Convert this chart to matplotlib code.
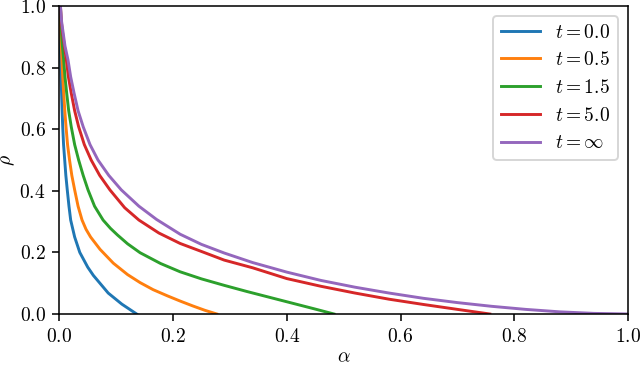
import matplotlib
matplotlib.use("Agg")
import matplotlib.pyplot as plt

plt.rcParams['font.family'] = ['cmr10', 'DejaVu Serif']
plt.rcParams['mathtext.fontset'] = 'cm'
plt.rcParams['axes.formatter.use_mathtext'] = True
plt.rcParams['font.size'] = 10

# t = 0.0
alpha_t0 = [0.0003, 0.0012, 0.0024, 0.0031, 0.004, 0.005, 0.006, 0.0075, 0.0095, 0.0115, 0.014, 0.017,
            0.020, 0.027, 0.036, 0.050, 0.060, 0.0716, 0.086, 0.110, 0.136]
rho_t0 = [1.0, 0.91, 0.825, 0.77, 0.717, 0.66, 0.608, 0.55, 0.5, 0.45, 0.403, 0.35,
          0.305, 0.25, 0.2, 0.152, 0.125, 0.0996, 0.068, 0.032, 0.0]

# t = 0.5
alpha_t05 = [0.001, 0.0017, 0.0025, 0.0035, 0.0047, 0.006, 0.0077, 0.0097, 0.0118, 0.0145, 0.018, 0.022,
             0.027, 0.033, 0.040, 0.047, 0.055, 0.0716, 0.095, 0.12, 0.142, 0.165, 0.19, 0.2125, 0.235, 0.256, 0.277]
rho_t05 = [1.0, 0.95, 0.91, 0.87, 0.825, 0.77, 0.717, 0.66, 0.608, 0.55, 0.5, 0.45,
           0.403, 0.35, 0.305, 0.275, 0.25, 0.210, 0.165, 0.128, 0.102, 0.079, 0.059, 0.042, 0.026, 0.012, 0.0]

# t = 1.5
alpha_t15 = [0.002, 0.003, 0.004, 0.0055, 0.0077, 0.010, 0.013, 0.0165, 0.021, 0.027, 0.034, 0.042,
             0.0505, 0.062, 0.077, 0.090, 0.102, 0.120, 0.142, 0.178, 0.2125, 0.25, 0.29, 0.33, 0.37, 0.41, 0.45, 0.483]
rho_t15 = [1.0, 0.95, 0.91, 0.87, 0.825, 0.77, 0.717, 0.66, 0.608, 0.55, 0.5, 0.45,
           0.403, 0.35, 0.305, 0.278, 0.257, 0.228, 0.199, 0.164, 0.137, 0.114, 0.093, 0.073, 0.054, 0.035, 0.016, 0.0]

# t = 5.0
alpha_t5 = [0.002, 0.0035, 0.006, 0.009, 0.0124, 0.016, 0.021, 0.027, 0.034, 0.044, 0.056, 0.071,
            0.089, 0.115, 0.140, 0.175, 0.2125, 0.250, 0.290, 0.340, 0.400, 0.460, 0.520, 0.580, 0.640, 0.700, 0.757]
rho_t5 = [1.0, 0.95, 0.91, 0.87, 0.825, 0.77, 0.717, 0.66, 0.608, 0.55, 0.5, 0.45,
          0.403, 0.345, 0.305, 0.263, 0.229, 0.203, 0.175, 0.150, 0.115, 0.090, 0.068, 0.048, 0.031, 0.015, 0.0]

# t = infinity
alpha_tinf = [0.002, 0.004, 0.007, 0.010, 0.0153, 0.020, 0.026, 0.033, 0.042, 0.054, 0.068, 0.087,
              0.109, 0.140, 0.171, 0.2125, 0.250, 0.290, 0.340, 0.400, 0.460, 0.520, 0.580, 0.640,
              0.700, 0.760, 0.820, 0.880, 0.940, 1.0]
rho_tinf = [1.0, 0.95, 0.91, 0.87, 0.825, 0.77, 0.717, 0.66, 0.608, 0.55, 0.5, 0.45,
            0.403, 0.350, 0.307, 0.259, 0.226, 0.198, 0.167, 0.136, 0.109, 0.087, 0.068, 0.051,
            0.037, 0.025, 0.015, 0.007, 0.002, 0.0]

labels = [r'$t = 0.0$', r'$t = 0.5$', r'$t = 1.5$', r'$t = 5.0$', r'$t = \infty$']
series = [(alpha_t0, rho_t0), (alpha_t05, rho_t05), (alpha_t15, rho_t15),
          (alpha_t5, rho_t5), (alpha_tinf, rho_tinf)]
colors = ['#1f77b4', '#ff7f0e', '#2ca02c', '#d62728', '#9467bd']

dpi = 140
fig = plt.figure(figsize=(640 / dpi, 366 / dpi), dpi=dpi)
ax = fig.add_axes([59.3 / 640, 52 / 366, (628 - 59.3) / 640, (314 - 6) / 366])

for (a, r), lab, c in zip(series, labels, colors):
    ax.plot(a, r, color=c, label=lab, lw=1.5)

ax.set_xlim(0, 1)
ax.set_ylim(0, 1)
ax.set_xlabel(r'$\alpha$')
ax.set_ylabel(r'$\rho$')
ax.xaxis.set_label_coords(0.5, (314 - 348) / 308)
ax.yaxis.set_label_coords((17 - 59.3) / 568.5, 0.5)
ax.legend(loc='upper right')

fig.savefig('out.png', dpi=dpi)
